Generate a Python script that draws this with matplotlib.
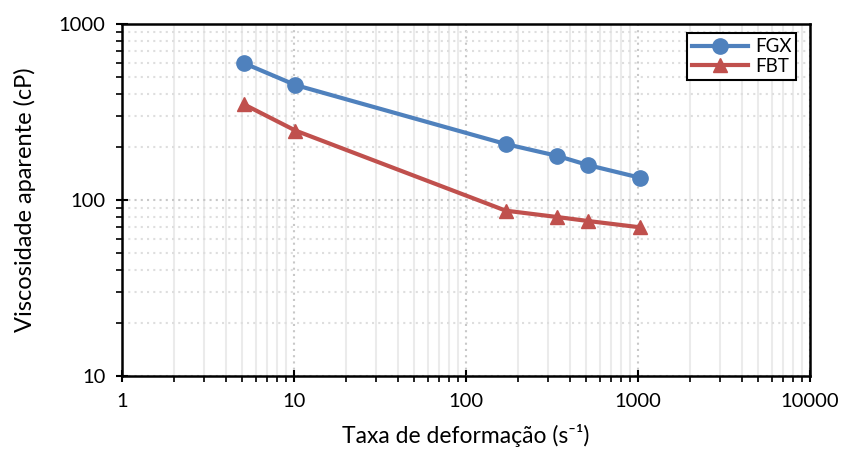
import numpy as np
import matplotlib
matplotlib.use("Agg")
import matplotlib.pyplot as plt
from matplotlib.ticker import LogLocator, FixedLocator, NullFormatter

plt.rcParams['font.family'] = ['Lato', 'DejaVu Sans']

# data
taxa = [5.1, 10.2, 170, 340, 511, 1022]
fgx = [600, 450, 208, 178, 158, 134]
fbt = [350, 248, 87, 80, 76, 70]

fig = plt.figure(figsize=(8.43, 4.57), dpi=100)
ax = fig.add_axes([122/843, 1 - 376/457, (810-122)/843, (376-24)/457])

ax.set_xscale('log')
ax.set_yscale('log')
ax.set_xlim(1, 10000)
ax.set_ylim(10, 1000)

ax.plot(taxa, fgx, color='#4F81BD', lw=3, marker='o', ms=11, label='FGX', zorder=3)
ax.plot(taxa, fbt, color='#C0504D', lw=3, marker='^', ms=10, label='FBT', zorder=3)

ax.xaxis.set_major_locator(FixedLocator([1, 10, 100, 1000, 10000]))
ax.yaxis.set_major_locator(FixedLocator([10, 100, 1000]))
ax.xaxis.set_minor_locator(LogLocator(base=10, subs=np.arange(2, 10), numticks=20))
ax.yaxis.set_minor_locator(LogLocator(base=10, subs=np.arange(2, 10), numticks=20))
ax.xaxis.set_minor_formatter(NullFormatter())
ax.yaxis.set_minor_formatter(NullFormatter())
ax.set_xticklabels(['1', '10', '100', '1000', '10000'])
ax.set_yticklabels(['10', '100', '1000'])

# x grid: minor solid light, major dotted; y grid: all dotted
ax.xaxis.grid(True, which='minor', color='#ebebeb', lw=1.5, ls='-', zorder=0)
ax.xaxis.grid(True, which='major', color='#c8c8c8', lw=1.5, ls=(0, (1, 2)), zorder=0)
ax.yaxis.grid(True, which='minor', color='#dedede', lw=1.5, ls=(0, (1, 2)), zorder=0)
ax.yaxis.grid(True, which='major', color='#c8c8c8', lw=1.5, ls=(0, (1, 2)), zorder=0)
ax.set_axisbelow(True)

ax.tick_params(which='major', direction='inout', length=8, width=1.5, labelsize=14.5, pad=8)
ax.tick_params(which='minor', direction='out', length=4, width=1.2)
for s in ax.spines.values():
    s.set_linewidth(1.8)

ax.set_xlabel('Taxa de deformação (s⁻¹)', fontsize=16.5, labelpad=10)
ax.set_ylabel('Viscosidade aparente (cP)', fontsize=17, labelpad=16)

leg = ax.legend(loc='upper right', bbox_to_anchor=(0.994, 1.0), fontsize=13.5,
                fancybox=False, edgecolor='black', framealpha=1, handlelength=3.0,
                borderpad=0.25, labelspacing=0.15, handletextpad=0.4)
leg.get_frame().set_linewidth(1.5)

fig.savefig('out.png', dpi=100)
